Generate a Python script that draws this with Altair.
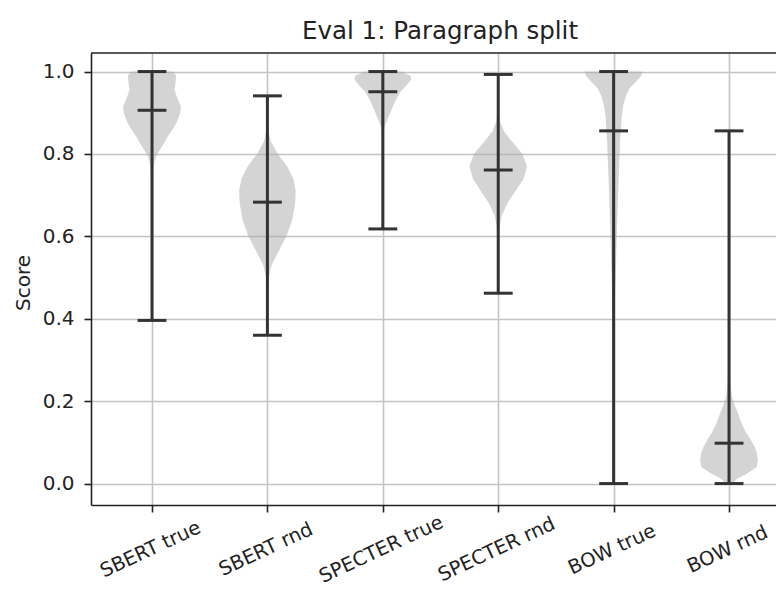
import altair as alt
import pandas as pd

categories = ["SBERT true", "SBERT rnd", "SPECTER true", "SPECTER rnd", "BOW true", "BOW rnd"]
mins = [0.396, 0.360, 0.618, 0.462, 0.0, 0.0]
maxs = [1.0, 0.941, 1.0, 0.993, 1.0, 0.856]
medians = [0.906, 0.683, 0.951, 0.761, 0.856, 0.098]
y_ticks = [0.0, 0.2, 0.4, 0.6, 0.8, 1.0]

# violin outlines: score levels and half-widths (density)
sbert_true_score = [0.396, 0.60, 0.70, 0.76, 0.78, 0.80, 0.82, 0.84, 0.86, 0.88, 0.90, 0.915, 0.935, 0.955, 0.975, 0.99, 1.0]
sbert_true_width = [0.0, 0.002, 0.006, 0.012, 0.02, 0.045, 0.09, 0.13, 0.18, 0.22, 0.245, 0.25, 0.22, 0.195, 0.205, 0.21, 0.18]

sbert_rnd_score = [0.36, 0.45, 0.50, 0.53, 0.56, 0.60, 0.64, 0.68, 0.71, 0.74, 0.77, 0.80, 0.83, 0.86, 0.90, 0.941]
sbert_rnd_width = [0.0, 0.003, 0.012, 0.035, 0.09, 0.165, 0.215, 0.24, 0.245, 0.225, 0.17, 0.09, 0.03, 0.006, 0.002, 0.0]

specter_true_score = [0.618, 0.80, 0.85, 0.87, 0.89, 0.91, 0.93, 0.95, 0.965, 0.98, 0.99, 1.0]
specter_true_width = [0.0, 0.002, 0.008, 0.02, 0.05, 0.08, 0.11, 0.15, 0.20, 0.245, 0.24, 0.16]

specter_rnd_score = [0.462, 0.58, 0.62, 0.65, 0.68, 0.71, 0.74, 0.77, 0.80, 0.83, 0.855, 0.88, 0.92, 0.993]
specter_rnd_width = [0.0, 0.002, 0.01, 0.03, 0.08, 0.15, 0.22, 0.25, 0.21, 0.12, 0.05, 0.015, 0.003, 0.0]

bow_true_score = [0.0, 0.30, 0.42, 0.50, 0.59, 0.71, 0.83, 0.89, 0.915, 0.94, 0.96, 0.98, 0.99, 1.0]
bow_true_width = [0.0, 0.001, 0.008, 0.017, 0.026, 0.04, 0.056, 0.07, 0.082, 0.105, 0.14, 0.21, 0.24, 0.25]

bow_rnd_score = [0.0, 0.012, 0.025, 0.04, 0.058, 0.075, 0.09, 0.11, 0.125, 0.145, 0.165, 0.19, 0.21, 0.25, 0.35, 0.50, 0.856]
bow_rnd_width = [0.03, 0.07, 0.16, 0.24, 0.25, 0.24, 0.22, 0.18, 0.145, 0.11, 0.085, 0.05, 0.025, 0.01, 0.004, 0.001, 0.0]

profiles = [
    (sbert_true_score, sbert_true_width),
    (sbert_rnd_score, sbert_rnd_width),
    (specter_true_score, specter_true_width),
    (specter_rnd_score, specter_rnd_width),
    (bow_true_score, bow_true_width),
    (bow_rnd_score, bow_rnd_width),
]

CAP = 0.125
rows = []
for i, (cat, (sc, wd)) in enumerate(zip(categories, profiles)):
    pos = i + 1
    for s, w in zip(sc, wd):
        rows.append({"cat": cat, "pos": pos, "score": s, "lo": pos - w, "hi": pos + w})
violin_df = pd.DataFrame(rows)

stats_df = pd.DataFrame({
    "cat": categories,
    "pos": list(range(1, len(categories) + 1)),
    "min": mins,
    "max": maxs,
    "median": medians,
})
stats_df["cap_lo"] = stats_df["pos"] - CAP
stats_df["cap_hi"] = stats_df["pos"] + CAP
caps_df = stats_df.melt(id_vars=["cat", "pos", "cap_lo", "cap_hi"], value_vars=["min", "max", "median"],
                        var_name="stat", value_name="value")

W, H = 685, 452
FONT = "DejaVu Sans"
TXT = "#222222"

label_expr = "[" + ",".join("'" + c + "'" for c in categories) + "][datum.value - 1]"

xscale = alt.Scale(domain=[0.4714, 6.407], nice=False, zero=False)
yscale = alt.Scale(domain=[-0.052, 1.045], nice=False, zero=False)

x_axis = alt.Axis(
    values=list(range(1, len(categories) + 1)), labelExpr=label_expr, title=None,
    labelAngle=335, labelAlign="center", labelBaseline="middle", labelPadding=37, labelOffset=-2,
    labelOverlap=False, labelBound=False,
    labelFont=FONT, labelFontSize=19.5, labelColor=TXT,
    tickSize=7, tickColor=TXT, tickWidth=1.6,
    domainColor=TXT, domainWidth=1.6,
    grid=True, gridColor="#c4c4c4", gridWidth=1.6,
)
y_axis = alt.Axis(
    values=y_ticks, format=".1f", title="Score",
    labelFont=FONT, labelFontSize=20, labelColor=TXT, labelPadding=10,
    tickSize=7, tickColor=TXT, tickWidth=1.6,
    domainColor=TXT, domainWidth=1.6,
    grid=True, gridColor="#c4c4c4", gridWidth=1.6,
    titleFont=FONT, titleFontSize=20, titleFontWeight="normal", titleColor=TXT,
    titleX=-68, titleY=229.5, titleAngle=270, titleAlign="center", titleBaseline="middle",
)

violins = alt.Chart(violin_df).mark_area(orient="horizontal", color="#a9a9a9", opacity=0.5).encode(
    y=alt.Y("score:Q", scale=yscale, axis=y_axis),
    x=alt.X("lo:Q", scale=xscale, axis=x_axis, stack=None),
    x2="hi:Q",
    detail="cat:N",
)

bars = alt.Chart(stats_df).mark_rule(color="#333333", strokeWidth=3).encode(
    x=alt.X("pos:Q", scale=xscale, axis=x_axis),
    y=alt.Y("min:Q", scale=yscale, axis=y_axis),
    y2="max:Q",
)

caps = alt.Chart(caps_df).mark_rule(color="#333333", strokeWidth=3).encode(
    x=alt.X("cap_lo:Q", scale=xscale, axis=x_axis),
    x2="cap_hi:Q",
    y=alt.Y("value:Q", scale=yscale, axis=y_axis),
)

top_border = alt.Chart(pd.DataFrame({"a": [0]})).mark_rule(color=TXT, strokeWidth=1.6).encode(
    x=alt.value(0), x2=alt.value(W), y=alt.value(0)
)

chart = alt.layer(violins, bars, caps, top_border).properties(
    width=W, height=H,
    title=alt.TitleParams("Eval 1: Paragraph split", font=FONT, fontSize=24.5, fontWeight="normal",
                          color=TXT, anchor="middle", dx=6.5, offset=8),
    padding={"left": 83, "top": 45, "right": 0, "bottom": 84},
    autosize=alt.AutoSizeParams(type="none"),
).configure_view(stroke=None)

chart.save("out.html", embed_options={"renderer": "svg", "actions": False})
